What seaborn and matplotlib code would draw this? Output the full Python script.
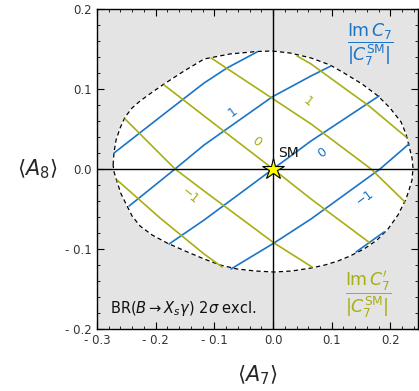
import matplotlib
matplotlib.use("Agg")
import matplotlib.pyplot as plt
import seaborn as sns
import pandas as pd
from matplotlib.ticker import FixedLocator, FixedFormatter, MultipleLocator

# bordo della regione permessa (BR(B -> Xs gamma) a 2 sigma)
bordo_x = [-0.2726, -0.2709, -0.2675, -0.2606, -0.2521, -0.2402, -0.2266, -0.2078, -0.1857,
           -0.1516, -0.1175, -0.0733, -0.0273, -0.0017, 0.0290, 0.0647, 0.0971, 0.1210,
           0.1516, 0.1789, 0.1993, 0.2181, 0.2266, 0.2317, 0.2368, 0.2385, 0.2368, 0.2317,
           0.2266, 0.2129, 0.1959, 0.1772, 0.1550, 0.1312, 0.1107, 0.0886, 0.0647, 0.0324,
           0.0017, -0.0307, -0.0613, -0.0903, -0.1175, -0.1499, -0.1806, -0.2061, -0.2266,
           -0.2402, -0.2487, -0.2589, -0.2658, -0.2709]
bordo_y = [0.0050, 0.0213, 0.0363, 0.0513, 0.0650, 0.0763, 0.0850, 0.0950, 0.1063,
           0.1225, 0.1375, 0.1438, 0.1469, 0.1475, 0.1450, 0.1388, 0.1300, 0.1200,
           0.1063, 0.0913, 0.0763, 0.0588, 0.0438, 0.0288, 0.0138, 0.0013, -0.0138, -0.0263,
           -0.0375, -0.0575, -0.0750, -0.0888, -0.1000, -0.1088, -0.1150, -0.1200, -0.1238, -0.1275,
           -0.1288, -0.1275, -0.1250, -0.1200, -0.1125, -0.1025, -0.0925, -0.0825, -0.0713,
           -0.0588, -0.0463, -0.0313, -0.0163, -0.0038]

# curve di livello Im C7 / |C7^SM| (blu)
c7_valori = [2, 1, 0, -1, -2]
c7_x = [[-0.2709, -0.1857, -0.1175, -0.0784, -0.0273],
        [-0.2453, -0.1670, -0.1175, -0.0017, 0.0647, 0.0988],
        [-0.1772, -0.1175, 0.0, 0.0647, 0.1806],
        [-0.0716, 0.0017, 0.0647, 0.1823, 0.2317],
        [0.1414, 0.1891]]
c7_y = [[0.0200, 0.0688, 0.1075, 0.1263, 0.1463],
        [-0.0463, 0.0, 0.0300, 0.0900, 0.1163, 0.1288],
        [-0.0938, -0.0638, 0.0, 0.0350, 0.0913],
        [-0.1250, -0.0925, -0.0625, 0.0, 0.0313],
        [-0.1038, -0.0788]]

# curve di livello Im C7' / |C7^SM| (oliva)
c7p_valori = [2, 1, 0, -1, -2]
c7p_x = [[0.0409, 0.0647, 0.1635, 0.2266],
         [-0.1056, 0.0647, 0.1670, 0.2249],
         [-0.1857, -0.1175, 0.0, 0.0647, 0.1652],
         [-0.2521, -0.1670, -0.1175, 0.0017, 0.0664],
         [-0.2658, -0.1925, -0.1175, -0.0869]]
c7p_y = [[0.1413, 0.1313, 0.0788, 0.0400],
         [0.1388, 0.0563, 0.0, -0.0413],
         [0.1050, 0.0663, 0.0, -0.0375, -0.0925],
         [0.0625, 0.0, -0.0275, -0.0925, -0.1225],
         [-0.0138, -0.0613, -0.1063, -0.1225]]

# etichette delle curve
etichette_c7 = ["1", "0", "\u22121"]
etichette_c7_x = [-0.068, 0.0835, 0.1567]
etichette_c7_y = [0.0713, 0.020, -0.0363]
etichette_c7p = ["1", "0", "\u22121"]
etichette_c7p_x = [0.0596, -0.029, -0.1414]
etichette_c7p_y = [0.0838, 0.0338, -0.0338]

tick_valori_x = [-0.3, -0.2, -0.1, 0.0, 0.1, 0.2]
tick_testi_x = ["- 0.3", "- 0.2", "- 0.1", "0.0", "0.1", "0.2"]
tick_valori_y = [-0.2, -0.1, 0.0, 0.1, 0.2]
tick_testi_y = ["- 0.2", "- 0.1", "0.0", "0.1", "0.2"]

blu = "#1a74c8"
oliva = "#a9ae14"

# dataframe lungo per seaborn
righe = []
for i, v in enumerate(c7_valori):
    for x, y in zip(c7_x[i], c7_y[i]):
        righe.append({"famiglia": "c7", "curva": "c7_%d" % v, "x": x, "y": y})
for i, v in enumerate(c7p_valori):
    for x, y in zip(c7p_x[i], c7p_y[i]):
        righe.append({"famiglia": "c7p", "curva": "c7p_%d" % v, "x": x, "y": y})
df = pd.DataFrame(righe)

sns.set_style("ticks")
plt.rcParams["mathtext.fontset"] = "dejavusans"

fig = plt.figure(figsize=(4.19, 3.91), dpi=100)
ax = fig.add_axes([0.2315, 0.1586, 0.7661, 0.8184])
ax.set_facecolor("#e4e4e4")

ax.fill(bordo_x, bordo_y, color="white", zorder=1)
ax.plot(bordo_x + [bordo_x[0]], bordo_y + [bordo_y[0]], color="black", lw=0.9,
        dashes=(3.5, 2.5), zorder=2)

sns.lineplot(data=df, x="x", y="y", hue="famiglia", units="curva", estimator=None,
             sort=False, palette={"c7": blu, "c7p": oliva}, lw=1.2, legend=False,
             ax=ax, zorder=3)

for t, x, y in zip(etichette_c7, etichette_c7_x, etichette_c7_y):
    ax.text(x, y, t, color=blu, fontsize=9, rotation=37, ha="center", va="center", zorder=4)
for t, x, y in zip(etichette_c7p, etichette_c7p_x, etichette_c7p_y):
    ax.text(x, y, t, color=oliva, fontsize=9, rotation=-38, ha="center", va="center", zorder=4)

ax.axhline(0, color="black", lw=1, zorder=5)
ax.axvline(0, color="black", lw=1, zorder=5)
ax.plot([0], [0], marker="*", ms=16, mfc="#ffff00", mec="black", mew=0.8, zorder=6)
ax.text(0.0256, 0.0194, "SM", fontsize=10, ha="center", va="center", color="#111111", zorder=6)

ax.text(0.166, 0.155, r"$\dfrac{\mathrm{Im}\,C_7}{|C_7^{\mathrm{SM}}|}$", color=blu,
        fontsize=12.5, ha="center", va="center")
ax.text(0.163, -0.1575, r"$\dfrac{\mathrm{Im}\,C_7^{\prime}}{|C_7^{\mathrm{SM}}|}$", color=oliva,
        fontsize=12.5, ha="center", va="center")
ax.text(-0.278, -0.174, r"BR$(B\rightarrow X_s\gamma)$ 2$\sigma$ excl.", fontsize=10.5,
        ha="left", va="center", color="#111111")

ax.set_xlim(-0.3, 0.247)
ax.set_ylim(-0.2, 0.2)
ax.xaxis.set_major_locator(FixedLocator(tick_valori_x))
ax.xaxis.set_major_formatter(FixedFormatter(tick_testi_x))
ax.yaxis.set_major_locator(FixedLocator(tick_valori_y))
ax.yaxis.set_major_formatter(FixedFormatter(tick_testi_y))
ax.xaxis.set_minor_locator(MultipleLocator(0.02))
ax.yaxis.set_minor_locator(MultipleLocator(0.02))
ax.tick_params(which="both", direction="in", top=True, right=True, colors="black",
               labelcolor="#333333", labelsize=8.5)
ax.tick_params(which="major", length=5, width=0.8)
ax.tick_params(which="minor", length=2.5, width=0.6)
for s in ax.spines.values():
    s.set_linewidth(1)
    s.set_color("black")

ax.set_xlabel(r"$\langle A_7\rangle$", fontsize=15, labelpad=12)
ax.set_ylabel(r"$\langle A_8\rangle$", fontsize=15, rotation=0, labelpad=20, va="center")

fig.savefig("out.png", dpi=100)
